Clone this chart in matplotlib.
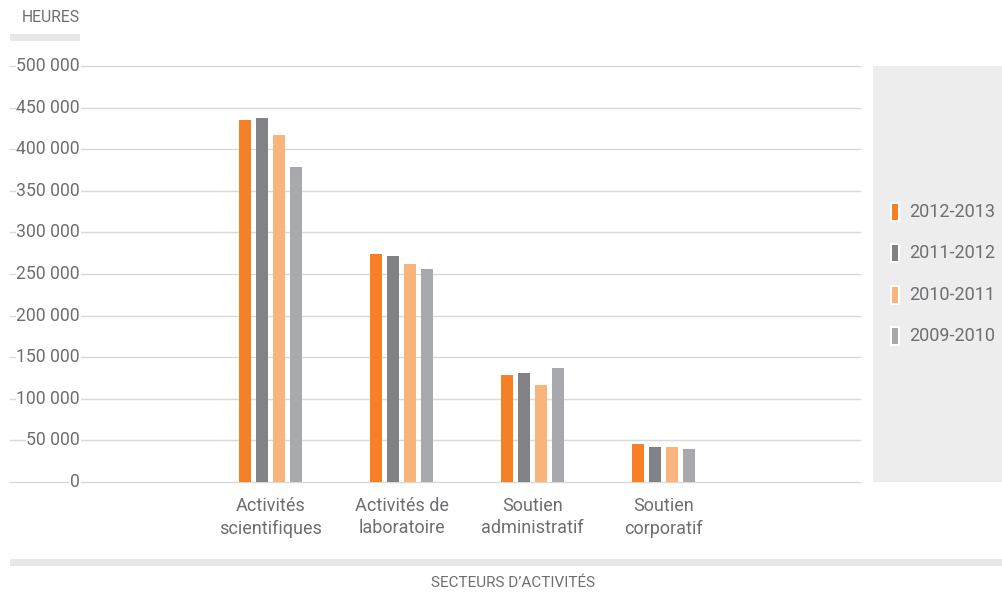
import matplotlib.pyplot as plt
from matplotlib.patches import Rectangle
import numpy as np

plt.rcParams["font.family"] = ["Roboto", "DejaVu Sans"]

categories = ["Activités\nscientifiques", "Activités de\nlaboratoire",
              "Soutien\nadministratif", "Soutien\ncorporatif"]
years = ["2012-2013", "2011-2012", "2010-2011", "2009-2010"]
h_2012_2013 = [435000, 274000, 128500, 45500]
h_2011_2012 = [437500, 271500, 131000, 42000]
h_2010_2011 = [417000, 262000, 116500, 42000]
h_2009_2010 = [378500, 256000, 137000, 39500]
yticks = [0, 50000, 100000, 150000, 200000, 250000, 300000, 350000, 400000, 450000, 500000]

series = [h_2012_2013, h_2011_2012, h_2010_2011, h_2009_2010]
colors = ["#f58025", "#808285", "#f9b47b", "#a7a9ac"]
text_col = "#6d6e71"
grid_col = "#d9d9d9"

W, H = 1002, 593
fig = plt.figure(figsize=(W / 100, H / 100), dpi=100)

# axes spans pixel x 10..860, y 66..482
ax = fig.add_axes([10 / W, (H - 482) / H, 850 / W, 416 / H])

x = np.arange(len(categories))
offsets = [-0.195, -0.065, 0.065, 0.195]
for vals, off, c in zip(series, offsets, colors):
    ax.bar(x + off, vals, width=0.092, color=c, zorder=3)

ax.set_xlim(-1.992, 4.504)
ax.set_ylim(0, 500000)

for v in yticks:
    ax.axhline(v, color=grid_col, lw=1, zorder=1, clip_on=False)
    lab = "0" if v == 0 else f"{v:,}".replace(",", " ")
    ax.text(0.0824, v, lab, transform=ax.get_yaxis_transform(),
            ha="right", va="center", fontsize=12.7, color=text_col, zorder=2,
            bbox=dict(facecolor="white", edgecolor="none", pad=0.5))

ax.set_yticks([])
ax.set_xticks(x)
ax.set_xticklabels(categories, fontsize=13, color=text_col, linespacing=1.3)
ax.tick_params(axis="x", length=0, pad=11)
for s in ax.spines.values():
    s.set_visible(False)
ax.patch.set_alpha(0)

# top-left unit label with band
fig.text(80 / W, 1 - 18 / H, "HEURES", ha="right", va="center",
         fontsize=11.3, color=text_col)
fig.add_artist(Rectangle((10 / W, 1 - 41 / H), 70 / W, 7 / H,
                         transform=fig.transFigure, color="#e6e7e8", lw=0))

# bottom band and axis title
fig.add_artist(Rectangle((10 / W, 1 - 566 / H), 992 / W, 7 / H,
                         transform=fig.transFigure, color="#e6e7e8", lw=0))
fig.text(513 / W, 1 - 583 / H, "SECTEURS D\u2019ACTIVITÉS", ha="center",
         va="center", fontsize=11, color=text_col)

# legend panel
fig.add_artist(Rectangle((873 / W, 1 - 482 / H), 129 / W, 416 / H,
                         transform=fig.transFigure, color="#ededed", lw=0))
legend_y = [212, 253, 295, 336]
for yy, lab, c in zip(legend_y, years, colors):
    fig.add_artist(Rectangle((890 / W, 1 - (yy + 10) / H), 10 / W, 20 / H,
                             transform=fig.transFigure, color="white", lw=0))
    fig.add_artist(Rectangle((892 / W, 1 - (yy + 8) / H), 6 / W, 16 / H,
                             transform=fig.transFigure, color=c, lw=0))
    fig.text(909 / W, 1 - yy / H, lab, ha="left", va="center",
             fontsize=13, color=text_col)

fig.savefig("out.png", dpi=100)
